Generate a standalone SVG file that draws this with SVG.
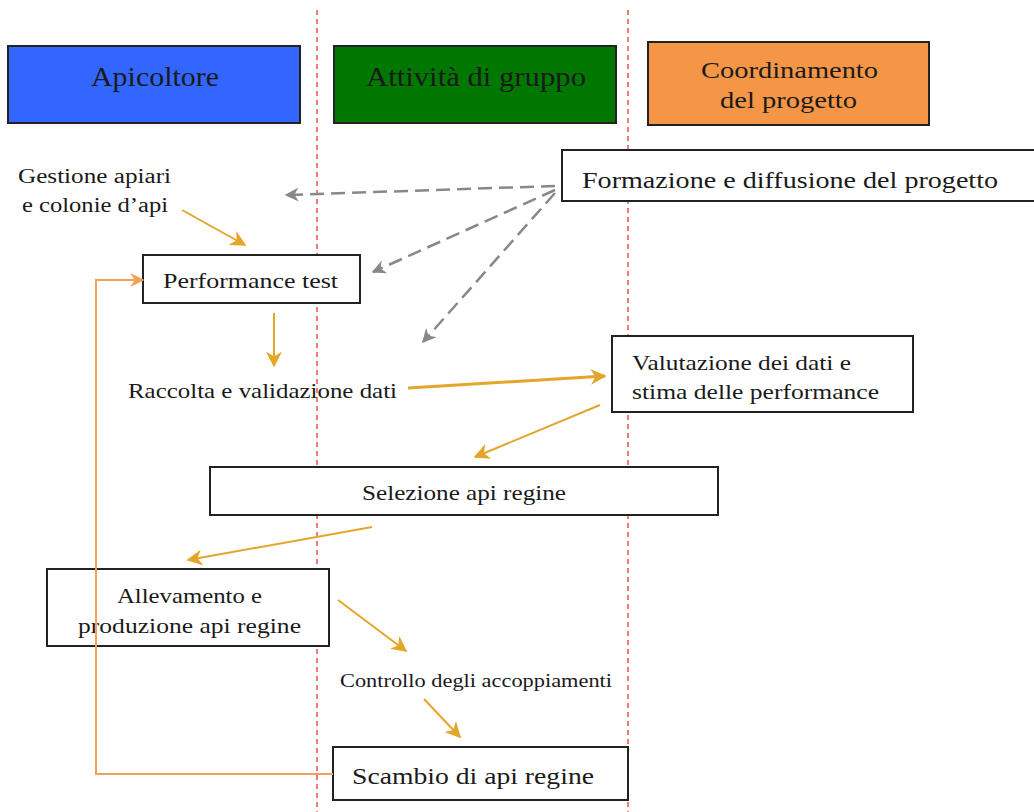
<svg xmlns="http://www.w3.org/2000/svg" width="1034" height="812" viewBox="0 0 1034 812">
<style>
text{font-family:"Liberation Serif","DejaVu Serif",serif;fill:#1a1a1a}
.box{fill:#fff;stroke:#222;stroke-width:2}
.hdr{stroke:#222;stroke-width:2}
.lane{stroke:#ee3333;stroke-width:1.3;stroke-dasharray:5,4;fill:none}
.gold{stroke:#e5a52a;stroke-width:2;fill:none;marker-end:url(#ag2)}
.gray{stroke:#888;stroke-width:2.5;stroke-dasharray:14,7;fill:none;marker-end:url(#agr)}
</style>
<defs>
<marker id="agr" viewBox="0 0 10 10" refX="9" refY="5" markerWidth="14" markerHeight="14" orient="auto" markerUnits="userSpaceOnUse">
<path d="M0,0 L10,5 L0,10 L3,5 z" fill="#888"/>
</marker>
<marker id="ao" viewBox="0 0 10 10" refX="9" refY="5" markerWidth="14" markerHeight="14" orient="auto" markerUnits="userSpaceOnUse">
<path d="M0,0 L10,5 L0,10 L3,5 z" fill="#f5a05a"/>
</marker>
<marker id="ag2" viewBox="0 0 10 10" refX="9" refY="5" markerWidth="16" markerHeight="16" orient="auto" markerUnits="userSpaceOnUse">
<path d="M0,0 L10,5 L0,10 L3,5 z" fill="#e5a52a"/>
</marker>
</defs>
<rect width="1034" height="812" fill="#fff"/>
<g id="lanes">
<line class="lane" x1="317" y1="10" x2="317" y2="812"/>
<line class="lane" x1="628" y1="10" x2="628" y2="812"/>
</g>
<g id="apicoltore"><rect class="hdr" x="8" y="46" width="292" height="77" fill="#3366ff"/><text x="91" y="86" font-size="28" textLength="128" lengthAdjust="spacingAndGlyphs">Apicoltore</text></g>
<g id="attivita"><rect class="hdr" x="334" y="46" width="282" height="77" fill="#007700"/><text x="366" y="86" font-size="28" textLength="220" lengthAdjust="spacingAndGlyphs">Attività di gruppo</text></g>
<g id="coordinamento"><rect class="hdr" x="648" y="42" width="281" height="83" fill="#f59646"/><text x="701" y="78" font-size="24" textLength="177" lengthAdjust="spacingAndGlyphs">Coordinamento</text><text x="720" y="108" font-size="24" textLength="137" lengthAdjust="spacingAndGlyphs">del progetto</text></g>
<g id="formazione"><rect class="box" x="562" y="150" width="480" height="51"/><text x="582" y="188" font-size="24" textLength="416" lengthAdjust="spacingAndGlyphs">Formazione e diffusione del progetto</text></g>
<g id="gestione"><text x="18" y="183" font-size="20" textLength="153" lengthAdjust="spacingAndGlyphs">Gestione apiari</text><text x="22" y="212" font-size="20" textLength="146" lengthAdjust="spacingAndGlyphs">e colonie d’api</text></g>
<g id="performance"><rect class="box" x="143" y="255" width="217" height="48"/><text x="163" y="288" font-size="21" textLength="175" lengthAdjust="spacingAndGlyphs">Performance test</text></g>
<g id="raccolta"><text x="128" y="398" font-size="21" textLength="269" lengthAdjust="spacingAndGlyphs">Raccolta e validazione dati</text></g>
<g id="valutazione"><rect class="box" x="612" y="336" width="301" height="76"/><text x="632" y="370" font-size="22" textLength="219" lengthAdjust="spacingAndGlyphs">Valutazione dei dati e</text><text x="632" y="399" font-size="22" textLength="247" lengthAdjust="spacingAndGlyphs">stima delle performance</text></g>
<g id="selezione"><rect class="box" x="210" y="467" width="508" height="48"/><text x="362" y="500" font-size="21" textLength="204" lengthAdjust="spacingAndGlyphs">Selezione api regine</text></g>
<g id="allevamento"><rect class="box" x="47" y="569" width="282" height="77"/><text x="117" y="603" font-size="22" textLength="145" lengthAdjust="spacingAndGlyphs">Allevamento e</text><text x="78" y="633" font-size="22" textLength="223" lengthAdjust="spacingAndGlyphs">produzione api regine</text></g>
<g id="controllo"><text x="340" y="687" font-size="18" textLength="272" lengthAdjust="spacingAndGlyphs">Controllo degli accoppiamenti</text></g>
<g id="scambio"><rect class="box" x="333" y="747" width="295" height="53"/><text x="352" y="784" font-size="24" textLength="242" lengthAdjust="spacingAndGlyphs">Scambio di api regine</text></g>
<g id="connectors">
<path class="gray" d="M555,186 L286,195"/>
<path class="gray" d="M555,190 L373,272"/>
<path class="gray" d="M555,193 L423,342"/>
<path class="gold" d="M182,210 L245,245"/>
<path class="gold" d="M274,313 L274,366"/>
<path class="gold" style="stroke-width:3" d="M408,388 L605,376"/>
<path class="gold" d="M600,405 L475,457"/>
<path class="gold" d="M372,527 L188,560"/>
<path class="gold" d="M338,600 L406,651"/>
<path class="gold" d="M424,699 L460,737"/>
<path d="M333,774 L96,774 L96,280 L143,280" fill="none" stroke="#f5a05a" stroke-width="2" marker-end="url(#ao)"/>
</g>
</svg>
